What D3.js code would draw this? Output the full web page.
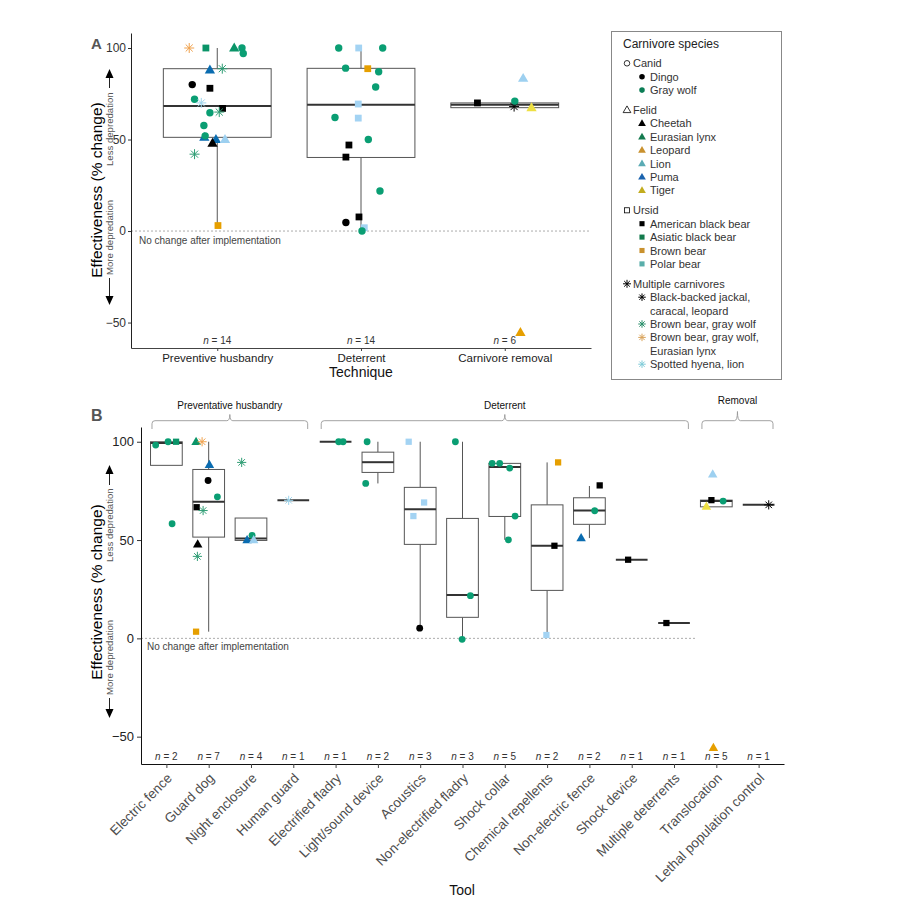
<!DOCTYPE html>
<html><head><meta charset="utf-8">
<script src="https://cdn.jsdelivr.net/npm/d3@7"></script>
<style>
body{margin:0;background:#fff;}
svg{display:block;font-family:"Liberation Sans",Arial,Helvetica,sans-serif;}
</style>
</head><body>
<svg id="c" width="899" height="897"></svg>
<script>
// ---------------- DATA ----------------
const speciesCodes = ["DI","GW","CH","EL","LE","LI","PU","TI","AB","AS","BB","PB","MJ","MW","ML","MH"];
const speciesNames = ["Dingo","Gray wolf","Cheetah","Eurasian lynx","Leopard","Lion","Puma","Tiger",
  "American black bear","Asiatic black bear","Brown bear","Polar bear",
  "Black-backed jackal, caracal, leopard","Brown bear, gray wolf","Brown bear, gray wolf, Eurasian lynx","Spotted hyena, lion"];
const speciesGroup = ["Canid","Canid","Felid","Felid","Felid","Felid","Felid","Felid",
  "Ursid","Ursid","Ursid","Ursid","Multiple carnivores","Multiple carnivores","Multiple carnivores","Multiple carnivores"];
const groupNames = ["Canid","Felid","Ursid","Multiple carnivores"];

// Panel A: technique level
const techniques = ["Preventive husbandry","Deterrent","Carnivore removal"];
const techN    = [14, 14, 6];
const techLow  = [3, 0, 67.4];
const techQ1   = [51.2, 40.2, 67.4];
const techMed  = [68.3, 69, 69];
const techQ3   = [88.7, 88.9, 70];
const techHigh = [100, 100, 70];

const aTech = [0,0,0,0,0,0,0,0,0,0,0,0,0,0,0,0,0,0,0,0,0,0,
               1,1,1,1,1,1,1,1,1,1,1,1,1,1,1,1,1,1,
               2,2,2,2,2,2];
const aSpecies = ["ML","AS","EL","GW","GW","PU","MW","DI","AB","GW","MH","AB","GW","MW","GW","PU","GW","PU","LI","CH","MW","BB",
                  "GW","PB","GW","GW","BB","GW","GW","PB","GW","PB","GW","AB","AB","GW","AB","DI","PB","GW",
                  "LI","AB","MJ","GW","TI","LE"];
const aValue = [100,100,100,100,97,88,88.7,80,78,72,70,67,64.6,65,57.7,51.2,52,50,50,48,42,3,
                100,100,100,89,88.7,87,78.7,69.4,62,61.7,50,47,40.4,21.9,7.7,4.7,1.8,0,
                83.4,70,68,71,67.4,-55.4];
// horizontal jitter (in category units)
const aJitter = [-0.195,-0.079,0.118,0.172,0.181,-0.051,0.035,-0.174,-0.051,-0.158,-0.111,0.037,-0.051,0.014,-0.093,-0.09,-0.084,-0.009,0.054,-0.033,-0.158,0.005,
                 -0.155,-0.016,0.151,-0.107,0.047,0.123,0.102,-0.019,-0.181,-0.019,0.051,-0.084,-0.105,0.132,-0.014,-0.105,0.023,0.007,
                 0.128,-0.19,0.065,0.07,0.186,0.109];

// Panel B: tool level
const tools = ["Electric fence","Guard dog","Night enclosure","Human guard","Electrified fladry","Light/sound device",
  "Acoustics","Non-electrified fladry","Shock collar","Chemical repellents","Non-electric fence","Shock device",
  "Multiple deterrents","Translocation","Lethal population control"];
const toolN    = [2,7,4,1,1,2,3,3,5,2,2,1,1,5,1];
const toolLow  = [88, 3.4, 49.8, 70.2, 100, 78.8, 5.2, 0, 50.1, 1.7, 51, 40, 7.8, 66.9, 68];
const toolQ1   = [88, 51.5, 49.8, 70.2, 100, 84.4, 47.8, 10.7, 62, 24.4, 58, 40, 7.8, 66.9, 68];
const toolMed  = [99.3, 69.5, 50.8, 70.2, 100, 89.6, 65.7, 22, 87.1, 47.1, 65, 40, 7.8, 69.8, 68];
const toolQ3   = [100, 85.9, 61.2, 70.2, 100, 94.7, 76.8, 61, 89, 67.9, 71.5, 40, 7.8, 70.3, 68];
const toolHigh = [100, 100, 61.2, 70.2, 100, 100, 100, 100, 89, 89.5, 77.5, 40, 7.8, 70.3, 68];
const toolGroups = ["Preventative husbandry","Deterrent","Removal"];
const toolGroupFirst = [0, 4, 13];
const toolGroupLast  = [3, 12, 14];

const bTool = [0,0,0,0, 1,1,1,1,1,1,1,1,1,1, 2,2,2,2, 3, 4,4, 5,5, 6,6,6,6, 7,7,7, 8,8,8,8,8, 9,9,9, 10,10,10, 11, 12, 13,13,13,13,13, 14];
const bSpecies = ["GW","GW","AS","GW",
  "EL","ML","PU","DI","GW","AB","MW","CH","MW","BB",
  "MW","GW","PU","LI",
  "MH",
  "GW","GW",
  "GW","GW",
  "PB","PB","PB","DI",
  "GW","GW","GW",
  "GW","GW","GW","GW","GW",
  "BB","AB","PB",
  "AB","GW","PU",
  "AB",
  "AB",
  "LI","AB","GW","TI","LE",
  "MJ"];
const bValue = [98.3,100,100,58.3,
  100,100,88.3,80.3,72,66.7,65,47.8,41.7,3.4,
  89.5,52.4,50,50,
  70.2,
  100,100,
  100,78.8,
  100,69.1,62.2,5.2,
  100,21.7,-0.5,
  89,89,86.6,62.2,50.1,
  89.5,47.1,1.7,
  77.8,64.9,51,
  40,
  7.8,
  83.4,70.3,69.8,67.1,-55.6,
  67.9];
const bJitter = [-0.253,0.04,0.229,0.135,
  -0.298,-0.156,0.017,-0.014,0.206,-0.284,-0.132,-0.26,-0.267,-0.298,
  -0.22,0.026,-0.092,0.064,
  -0.109,
  0.073,0.177,
  -0.255,-0.288,
  -0.272,0.092,-0.161,-0.012,
  -0.168,0.187,-0.009,
  -0.3,-0.121,0.116,0.243,0.085,
  0.26,0.173,-0.017,
  0.243,0.125,-0.196,
  -0.085,
  -0.18,
  -0.085,-0.116,0.161,-0.234,-0.069,
  0.239];

// ---------------- STYLE ----------------
const spStyle = {
  DI:{shape:"circle",color:"#000000"}, GW:{shape:"circle",color:"#0a9e73"},
  CH:{shape:"triangle",color:"#000000"}, EL:{shape:"triangle",color:"#0a9468"},
  LE:{shape:"triangle",color:"#E69F00"}, LI:{shape:"triangle",color:"#9dd0f0"},
  PU:{shape:"triangle",color:"#0a6cb0"}, TI:{shape:"triangle",color:"#eee043"},
  AB:{shape:"square",color:"#000000"}, AS:{shape:"square",color:"#0a9468"},
  BB:{shape:"square",color:"#E69F00"}, PB:{shape:"square",color:"#a3d3f3"},
  MJ:{shape:"asterisk",color:"#000000"}, MW:{shape:"asterisk",color:"#2e9d74"},
  ML:{shape:"asterisk",color:"#f0a24e"}, MH:{shape:"asterisk",color:"#9fd5ec"}
};
const legendColor = {DI:"#000",GW:"#0b7d55",CH:"#000",EL:"#147a4e",LE:"#c9912e",LI:"#5aabb4",PU:"#1a63ae",TI:"#c2ac1e",
  AB:"#000",AS:"#137a4c",BB:"#c9912e",PB:"#59aeaa",MJ:"#000",MW:"#2a8f6b",ML:"#d9a35a",MH:"#7fcbd8"};
const groupShape = {"Canid":"circle","Felid":"triangle","Ursid":"square","Multiple carnivores":"asterisk"};

const svg = d3.select("#c");

function mark(g, shape, x, y, color, s, open){
  if(shape==="circle"){
    g.append("circle").attr("cx",x).attr("cy",y).attr("r",3.7*s)
      .attr("fill",open?"none":color).attr("stroke",open?color:"none").attr("stroke-width",0.8);
  } else if(shape==="square"){
    const h=3.4*s;
    g.append("rect").attr("x",x-h).attr("y",y-h).attr("width",2*h).attr("height",2*h)
      .attr("fill",open?"none":color).attr("stroke",open?color:"none").attr("stroke-width",0.8);
  } else if(shape==="triangle"){
    g.append("path").attr("transform",`translate(${x},${y+0.5*s})`)
      .attr("d",d3.symbol(d3.symbolTriangle,46*s*s)())
      .attr("fill",open?"none":color).attr("stroke",open?color:"none").attr("stroke-width",0.8);
  } else {
    const r=5*s, d=r*0.7071;
    const p=d3.path();
    p.moveTo(x-r,y);p.lineTo(x+r,y);p.moveTo(x,y-r);p.lineTo(x,y+r);
    p.moveTo(x-d,y-d);p.lineTo(x+d,y+d);p.moveTo(x-d,y+d);p.lineTo(x+d,y-d);
    g.append("path").attr("d",p.toString()).attr("stroke",color).attr("stroke-width",1).attr("fill","none");
  }
}

function boxes(g, xs, ys, cats, lo, q1, md, q3, hi){
  const bw = xs.step()*0.75;
  cats.forEach((c,i)=>{
    const cx = xs(c);
    g.append("line").attr("x1",cx).attr("x2",cx).attr("y1",ys(q3[i])).attr("y2",ys(hi[i]))
      .attr("stroke","#555").attr("stroke-width",1);
    g.append("line").attr("x1",cx).attr("x2",cx).attr("y1",ys(q1[i])).attr("y2",ys(lo[i]))
      .attr("stroke","#555").attr("stroke-width",1);
    g.append("rect").attr("x",cx-bw/2).attr("y",ys(q3[i])).attr("width",bw)
      .attr("height",Math.max(0,ys(q1[i])-ys(q3[i]))).attr("fill","#fff")
      .attr("stroke","#555").attr("stroke-width",1);
    g.append("line").attr("x1",cx-bw/2).attr("x2",cx+bw/2).attr("y1",ys(md[i])).attr("y2",ys(md[i]))
      .attr("stroke","#333").attr("stroke-width",2);
  });
}

function yAnnot(g, cx, titleY, lessStart, lessEnd, lessTip, moreStart, moreEnd, moreTip){
  g.append("text").attr("transform",`translate(${cx},${titleY}) rotate(-90)`)
    .attr("text-anchor","middle").attr("font-size",15.5).attr("fill","#000").text("Effectiveness (% change)");
  const ax = 109.5;
  g.append("text").attr("transform",`translate(${ax+3.8},${lessStart}) rotate(-90)`)
    .attr("font-size",9.6).attr("fill","#555").text("Less depredation");
  g.append("line").attr("x1",ax).attr("x2",ax).attr("y1",lessEnd-2).attr("y2",lessTip+7).attr("stroke","#222").attr("stroke-width",1);
  g.append("path").attr("d",`M${ax},${lessTip} L${ax-4},${lessTip+9} L${ax+4},${lessTip+9} Z`).attr("fill","#000");
  g.append("text").attr("transform",`translate(${ax+3.8},${moreStart}) rotate(-90)`)
    .attr("font-size",9.6).attr("fill","#555").text("More depredation");
  g.append("line").attr("x1",ax).attr("x2",ax).attr("y1",moreStart+3).attr("y2",moreTip-7).attr("stroke","#222").attr("stroke-width",1);
  g.append("path").attr("d",`M${ax},${moreTip} L${ax-4},${moreTip-9} L${ax+4},${moreTip-9} Z`).attr("fill","#000");
}

// ---------------- PANEL A ----------------
const gA = svg.append("g");
const xA = d3.scalePoint().domain(techniques).range([131,591]).padding(0.6);
const yA = d3.scaleLinear().domain([-63.9,108.2]).range([348,33]);

gA.append("line").attr("x1",131).attr("x2",591).attr("y1",yA(0)).attr("y2",yA(0))
  .attr("stroke","#888").attr("stroke-width",0.7).attr("stroke-dasharray","2,2");
gA.append("text").attr("x",139).attr("y",yA(0)+12.5).attr("font-size",10).attr("fill","#444")
  .text("No change after implementation");

boxes(gA, xA, yA, techniques, techLow, techQ1, techMed, techQ3, techHigh);
aValue.forEach((v,i)=>{
  const t = techniques[aTech[i]];
  const st = spStyle[aSpecies[i]];
  mark(gA, st.shape, xA(t)+aJitter[i]*xA.step(), yA(v), st.color, 1);
});
techniques.forEach((t,i)=>{
  const tx = gA.append("text").attr("x",xA(t)).attr("y",344).attr("text-anchor","middle")
    .attr("font-size",10).attr("fill","#333");
  tx.append("tspan").attr("font-style","italic").text("n");
  tx.append("tspan").text(" = "+techN[i]);
});

const axA = gA.append("g").attr("transform","translate(131,0)")
  .call(d3.axisLeft(yA).tickValues([-50,0,50,100]).tickSize(3).tickSizeOuter(0).tickPadding(2));
axA.selectAll("text").attr("font-size",12).attr("fill","#333").attr("font-family","Liberation Sans, Arial");
axA.select(".domain").attr("stroke","#222");
axA.selectAll(".tick line").attr("stroke","#333");
const axAx = gA.append("g").attr("transform","translate(0,348)")
  .call(d3.axisBottom(xA).tickSize(3).tickSizeOuter(0).tickPadding(3));
axAx.selectAll("text").attr("font-size",11.5).attr("fill","#222").attr("font-family","Liberation Sans, Arial");
axAx.select(".domain").attr("stroke","#444");
axAx.selectAll(".tick line").attr("stroke","#444");
gA.append("text").attr("x",361).attr("y",377).attr("text-anchor","middle").attr("font-size",14).attr("fill","#111").text("Technique");
gA.append("text").attr("x",91).attr("y",48.5).attr("font-size",15).attr("font-weight","bold").attr("fill","#555").text("A");
yAnnot(gA, 102, 190, 166, 90, 69, 275, 203, 305);

// ---------------- LEGEND ----------------
const gL = svg.append("g");
gL.append("rect").attr("x",611.5).attr("y",31.5).attr("width",170).attr("height",348)
  .attr("fill","#fff").attr("stroke","#888").attr("stroke-width",1);
gL.append("text").attr("x",623).attr("y",47.5).attr("font-size",12).attr("fill","#222").text("Carnivore species");
let ly = 63.3;
const rowH = 13.4, gap = 6.5;
const legendLines = {MJ:["Black-backed jackal,","caracal, leopard"], ML:["Brown bear, gray wolf,","Eurasian lynx"]};
groupNames.forEach((gname,gi)=>{
  const shp = groupShape[gname];
  mark(gL, shp, 627, ly, "#000", shp==="asterisk"?0.8:0.75, true);
  gL.append("text").attr("x",633).attr("y",ly+4).attr("font-size",11).attr("fill","#333").text(gname);
  ly += rowH;
  speciesCodes.forEach((code,si)=>{
    if(speciesGroup[si]!==gname) return;
    mark(gL, spStyle[code].shape, 642, ly, legendColor[code], 0.75, false);
    const lines = legendLines[code] || [speciesNames[si]];
    lines.forEach((ln,k)=>{
      gL.append("text").attr("x",650).attr("y",ly+4+k*rowH).attr("font-size",11).attr("fill","#333").text(ln);
    });
    ly += rowH*lines.length;
  });
  ly += gap;
});

// ---------------- PANEL B ----------------
const gB = svg.append("g");
const xB = d3.scalePoint().domain(tools).range([141,784]).padding(0.6);
const yB = d3.scaleLinear().domain([-63.9,107.5]).range([764,427]);

gB.append("line").attr("x1",141).attr("x2",xB(tools[13])-xB.step()*0.5).attr("y1",yB(0)).attr("y2",yB(0))
  .attr("stroke","#888").attr("stroke-width",0.7).attr("stroke-dasharray","2,2");
gB.append("text").attr("x",147).attr("y",yB(0)+12).attr("font-size",10).attr("fill","#444")
  .text("No change after implementation");

boxes(gB, xB, yB, tools, toolLow, toolQ1, toolMed, toolQ3, toolHigh);
bValue.forEach((v,i)=>{
  const t = tools[bTool[i]];
  const st = spStyle[bSpecies[i]];
  mark(gB, st.shape, xB(t)+bJitter[i]*xB.step(), yB(v), st.color, 0.92);
});
tools.forEach((t,i)=>{
  const tx = gB.append("text").attr("x",xB(t)).attr("y",760).attr("text-anchor","middle")
    .attr("font-size",10).attr("fill","#333");
  tx.append("tspan").attr("font-style","italic").text("n");
  tx.append("tspan").text(" = "+toolN[i]);
});

// group brackets
toolGroups.forEach((gname,i)=>{
  const x1 = xB(tools[toolGroupFirst[i]]) - xB.step()*0.34;
  const x2 = xB(tools[toolGroupLast[i]]) + xB.step()*0.34;
  const cx = (x1+x2)/2;
  const yb = 420.7, ye = 429, yn = (i===2?411.5:414.5);
  const p = `M${x1},${ye} L${x1},${yb+3} Q${x1},${yb} ${x1+3},${yb} L${cx-3},${yb} Q${cx},${yb} ${cx},${yn} Q${cx},${yb} ${cx+3},${yb} L${x2-3},${yb} Q${x2},${yb} ${x2},${yb+3} L${x2},${ye}`;
  gB.append("path").attr("d",p).attr("fill","none").attr("stroke","#999").attr("stroke-width",0.9);
  gB.append("text").attr("x",cx).attr("y",(i===2?404:408.5)).attr("text-anchor","middle")
    .attr("font-size",10).attr("fill","#111").text(gname);
});

const axB = gB.append("g").attr("transform","translate(141,0)")
  .call(d3.axisLeft(yB).tickValues([-50,0,50,100]).tickSize(4).tickSizeOuter(0).tickPadding(3));
axB.selectAll("text").attr("font-size",13).attr("fill","#222").attr("font-family","Liberation Sans, Arial");
axB.select(".domain").attr("stroke","#111");
axB.selectAll(".tick line").attr("stroke","#333");
const axBx = gB.append("g").attr("transform","translate(0,764)")
  .call(d3.axisBottom(xB).tickSize(4).tickSizeOuter(0));
axBx.select(".domain").attr("stroke","#111");
axBx.selectAll(".tick line").attr("stroke","#444");
axBx.selectAll("text")
  .attr("font-size",13.5).attr("fill","#4d4d4d").attr("font-family","Liberation Sans, Arial")
  .attr("text-anchor","end").attr("y",0).attr("dy",0)
  .attr("transform","translate(6,15) rotate(-45)");
gB.append("text").attr("x",462).attr("y",895).attr("text-anchor","middle").attr("font-size",14).attr("fill","#111").text("Tool");
gB.append("text").attr("x",91).attr("y",421).attr("font-size",16).attr("font-weight","bold").attr("fill","#555").text("B");
yAnnot(gB, 102, 592, 562, 487, 465, 695, 620, 718);
</script>
</body></html>
